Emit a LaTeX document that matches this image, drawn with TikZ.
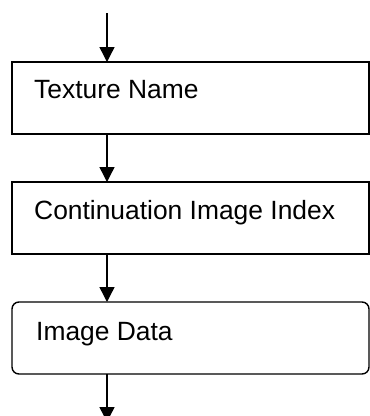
\documentclass[tikz,border=0pt]{standalone}
\usepackage{fontspec}
\setmainfont{Liberation Sans}
\usetikzlibrary{arrows.meta}
\begin{document}
\begin{tikzpicture}[x=1pt,y=-1pt,
  boxstyle/.style={draw,line width=1.4pt,minimum width=357pt,minimum height=72pt,inner sep=0pt},
  roundbox/.style={boxstyle,rounded corners=7pt},
  lbl/.style={anchor=base west,inner sep=0pt,font=\fontsize{26.4}{31}\selectfont},
  flow/.style={line width=1.4pt,-{Triangle[width=15pt,length=15pt]}}]
\useasboundingbox (0,0) rectangle (370,416);
\node[boxstyle] (b1) at (190.5,98) {};
\node[boxstyle] (b2) at (190.5,218) {};
\node[roundbox] (b3) at (190.5,338) {};
\node[lbl] (t1) at (34,98) {Texture Name};
\node[lbl] (t2) at (34,219) {Continuation Image Index};
\node[lbl] (t3) at (36,340) {Image Data};
\coordinate (start) at (107,13);
\coordinate (b1t) at (107,62);
\coordinate (b1b) at (107,134);
\coordinate (b2t) at (107,182);
\coordinate (b2b) at (107,254);
\coordinate (b3t) at (107,302);
\coordinate (b3b) at (107,374);
\coordinate (finish) at (107,422);
\draw[flow] (start) -- (b1t);
\draw[flow] (b1b) -- (b2t);
\draw[flow] (b2b) -- (b3t);
\draw[flow] (b3b) -- (finish);
\end{tikzpicture}
\end{document}
